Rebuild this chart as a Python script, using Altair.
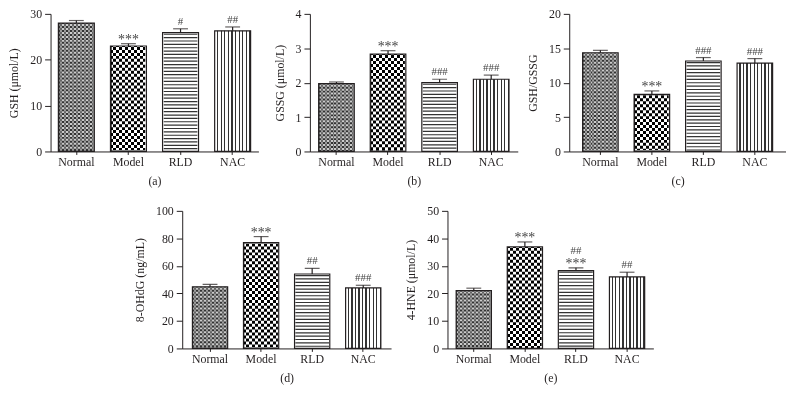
import altair as alt
import pandas as pd

groups = ["Normal", "Model", "RLD", "NAC"]

gsh_mean = [28.0, 23.0, 25.9, 26.3]
gsh_err = [0.55, 0.5, 0.85, 0.85]
gsh_sig_low = ["", "***", "#", "##"]
gsh_sig_high = ["", "", "", ""]

gssg_mean = [1.97, 2.83, 2.0, 2.1]
gssg_err = [0.05, 0.1, 0.1, 0.12]
gssg_sig_low = ["", "***", "###", "###"]
gssg_sig_high = ["", "", "", ""]

ratio_mean = [14.35, 8.3, 13.15, 12.85]
ratio_err = [0.35, 0.5, 0.5, 0.65]
ratio_sig_low = ["", "***", "###", "###"]
ratio_sig_high = ["", "", "", ""]

ohdg_mean = [44.8, 77.0, 54.1, 44.0]
ohdg_err = [1.7, 4.3, 4.1, 1.9]
ohdg_sig_low = ["", "***", "##", "###"]
ohdg_sig_high = ["", "", "", ""]

hne_mean = [21.0, 36.9, 28.3, 26.0]
hne_err = [0.9, 1.8, 1.0, 1.7]
hne_sig_low = ["", "***", "***", "##"]
hne_sig_high = ["", "", "##", ""]

FONT = "Liberation Serif"
INK = "#231f20"


def stripe_gradient(pattern, repeats):
    total = sum(w for _, w in pattern) * repeats
    stops = []
    pos = 0.0
    for _ in range(repeats):
        for c, w in pattern:
            stops.append(alt.GradientStop(color=c, offset=round(pos / total, 5)))
            pos += w
            stops.append(alt.GradientStop(color=c, offset=round(min(pos / total, 1.0), 5)))
    return alt.Gradient(gradient="linear", x1=0, x2=1, y1=0, y2=0, stops=stops)


FILL_NORMAL = stripe_gradient([("#333333", 2), ("#9a9a9a", 2)], 9)
FILL_MODEL = stripe_gradient([("#000000", 3), ("#ffffff", 3)], 6)
FILL_NAC = stripe_gradient([("#ffffff", 2.3), ("#333333", 1.3)], 10)


def panel(means, errs, sig_low, sig_high, ytitle, ymax, ystep, caption, width, pad_outer):
    df = pd.DataFrame({
        "group": groups,
        "mean": means,
        "top": [m + e for m, e in zip(means, errs)],
        "sig_low": sig_low,
        "sig_high": sig_high,
    })
    yscale = alt.Scale(domain=[0, ymax], nice=False, zero=True)
    yaxis = alt.Axis(title=ytitle, values=list(range(0, ymax + 1, ystep)))
    xenc = alt.X("group:N", sort=groups,
                 scale=alt.Scale(paddingInner=0.31, paddingOuter=pad_outer),
                 axis=alt.Axis(title=caption, labelAngle=0))
    base = alt.Chart(df).encode(x=xenc)

    def only(g):
        return base.transform_filter(alt.datum.group == g)

    y_mean = alt.Y("mean:Q", scale=yscale, axis=yaxis)
    y_top = alt.Y("top:Q", scale=yscale, axis=yaxis)

    layers = [
        only("Normal").mark_bar(fill=FILL_NORMAL, stroke=INK, strokeWidth=1.2).encode(y=y_mean),
        only("Normal").mark_rule(strokeWidth=34, strokeDash=[2, 2], color="white", blend="difference",
                                 yOffset=1, y2Offset=-1).encode(y=y_mean, y2=alt.datum(0)),
        only("Model").mark_bar(fill=FILL_MODEL, stroke=INK, strokeWidth=1.2).encode(y=y_mean),
        only("Model").mark_rule(strokeWidth=34, strokeDash=[3, 3], color="white", blend="difference",
                                yOffset=1, y2Offset=-1).encode(y=y_mean, y2=alt.datum(0)),
        only("RLD").mark_bar(fill="white", stroke=INK, strokeWidth=1.2).encode(y=y_mean),
        only("RLD").mark_rule(strokeWidth=34, strokeDash=[1.2, 2.2], color="#333333",
                              yOffset=1, y2Offset=-1).encode(y=y_mean, y2=alt.datum(0)),
        only("NAC").mark_bar(fill=FILL_NAC, stroke=INK, strokeWidth=1.2).encode(y=y_mean),
        base.mark_rule(color=INK, strokeWidth=1.2).encode(y=y_top, y2="mean:Q"),
        base.mark_tick(color=INK, size=15, thickness=1.2).encode(y=y_top),
        base.transform_filter(alt.datum.sig_low == "***").mark_text(
            font=FONT, fontSize=14, color="#444444", baseline="bottom", dy=3).encode(
            y=y_top, text="sig_low:N"),
        base.transform_filter((alt.datum.sig_low != "") & (alt.datum.sig_low != "***")).mark_text(
            font=FONT, fontSize=11, color="#444444", baseline="bottom", dy=-2).encode(
            y=y_top, text="sig_low:N"),
        base.transform_filter(alt.datum.sig_high != "").mark_text(
            font=FONT, fontSize=11, color="#444444", baseline="bottom", dy=-12).encode(
            y=y_top, text="sig_high:N"),
    ]
    return alt.layer(*layers).properties(width=width, height=139)


pa = panel(gsh_mean, gsh_err, gsh_sig_low, gsh_sig_high, "GSH (μmol/L)", 30, 10, "(a)", 210, 0.15)
pb = panel(gssg_mean, gssg_err, gssg_sig_low, gssg_sig_high, "GSSG (μmol/L)", 4, 1, "(b)", 210, 0.17)
pc = panel(ratio_mean, ratio_err, ratio_sig_low, ratio_sig_high, "GSH/GSSG", 20, 5, "(c)", 219, 0.26)
pd_ = panel(ohdg_mean, ohdg_err, ohdg_sig_low, ohdg_sig_high, "8-OHdG (ng/mL)", 100, 20, "(d)", 211, 0.2)
pe = panel(hne_mean, hne_err, hne_sig_low, hne_sig_high, "4-HNE (μmol/L)", 50, 10, "(e)", 208, 0.17)

SPACER_W = 76
spacer = alt.Chart(pd.DataFrame({"s": [0]})).mark_rect(opacity=0).encode(
    x=alt.value(0), x2=alt.value(SPACER_W), y=alt.value(0), y2=alt.value(1)
).properties(width=SPACER_W, height=1)

top_row = alt.hconcat(pa, pb, pc, spacing=52, bounds="flush")
bottom_row = alt.hconcat(spacer, pd_, pe, spacing=57, bounds="flush")

chart = alt.vconcat(top_row, bottom_row, spacing=19).properties(
    padding={"left": 0, "top": -3, "right": 0, "bottom": 0}
).configure_axis(
    domainColor=INK, domainWidth=1, tickColor=INK, tickWidth=1,
    labelFont=FONT, labelFontSize=12, labelColor=INK,
    titleFont=FONT, titleFontSize=12, titleFontWeight="normal", titleColor=INK,
    grid=False,
).configure_axisX(tickSize=3, labelPadding=2, titlePadding=8).configure_axisY(
    tickSize=6, labelPadding=3, titlePadding=9
).configure_view(stroke=None)

chart.save("out.html", embed_options={"renderer": "svg", "actions": False})
